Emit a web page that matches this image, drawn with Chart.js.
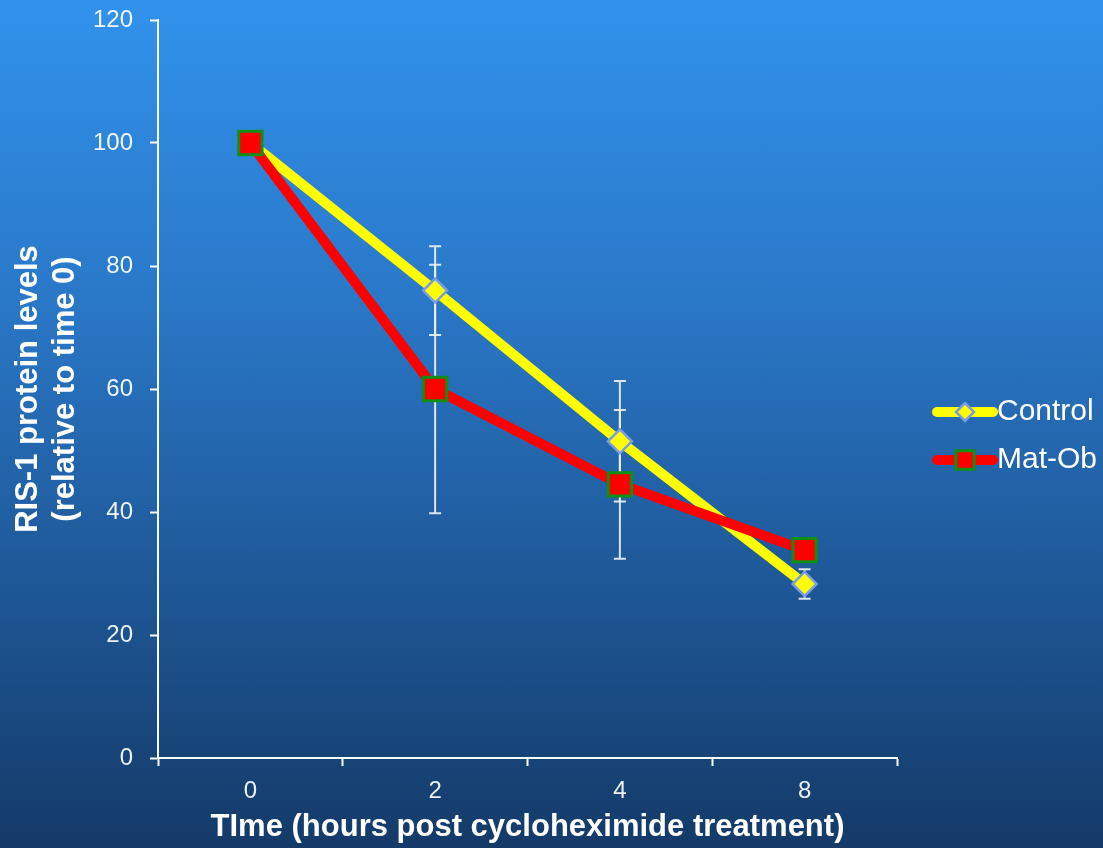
<!DOCTYPE html>
<html>
<head>
<meta charset="utf-8">
<script src="https://cdn.jsdelivr.net/npm/chart.js@4.4.0/dist/chart.umd.min.js"></script>
<style>
  html, body { margin: 0; padding: 0; }
  body {
    width: 1103px; height: 848px; overflow: hidden;
    background: linear-gradient(to bottom, #3192ec 0%, #2a78c8 35%, #1f5b9c 65%, #143a68 100%);
  }
  canvas { display: block; }
</style>
</head>
<body>
<canvas id="chart" width="1103" height="848"></canvas>
<script>
// Data
const hours = ['0', '2', '4', '8'];
const controlLevels = [100, 76, 51.5, 28.3];
const controlErr = [0, 7.2, 9.8, 2.4];
const matObLevels = [100, 60, 44.5, 33.8];
const matObErr = [0, 20.2, 12.1, 0];
const yTicks = [0, 20, 40, 60, 80, 100, 120];

Chart.defaults.font.family = '"Liberation Sans", Arial, sans-serif';

// Error bars drawn through the y scale
const errorBars = {
    id: 'errorBars',
    beforeDatasetsDraw(chart) {
        const ctx = chart.ctx;
        const y = chart.scales.y;
        ctx.save();
        ctx.strokeStyle = 'rgba(235,240,245,0.92)';
        ctx.lineWidth = 2;
        chart.data.datasets.forEach((ds, i) => {
            const meta = chart.getDatasetMeta(i);
            ds.errors.forEach((e, j) => {
                if (!e) return;
                const x = meta.data[j].x;
                const top = y.getPixelForValue(ds.data[j] + e);
                const bot = y.getPixelForValue(ds.data[j] - e);
                ctx.beginPath();
                ctx.moveTo(x, top); ctx.lineTo(x, bot);
                ctx.moveTo(x - 6, top); ctx.lineTo(x + 6, top);
                ctx.moveTo(x - 6, bot); ctx.lineTo(x + 6, bot);
                ctx.stroke();
            });
        });
        ctx.restore();
    }
};

// Excel style legend: thick line with marker in the middle
const sideLegend = {
    id: 'sideLegend',
    afterDraw(chart) {
        const ctx = chart.ctx;
        const x0 = chart.chartArea.right + 40;
        const rows = [412, 460];
        ctx.save();
        chart.data.datasets.forEach((ds, i) => {
            const yy = rows[i];
            ctx.strokeStyle = ds.borderColor;
            ctx.lineWidth = 10;
            ctx.lineCap = 'round';
            ctx.beginPath();
            ctx.moveTo(x0, yy); ctx.lineTo(x0 + 56, yy);
            ctx.stroke();
            ctx.fillStyle = ds.pointBackgroundColor;
            ctx.strokeStyle = ds.pointBorderColor;
            ctx.lineWidth = ds.pointBorderWidth;
            Chart.helpers.drawPoint(ctx, {
                pointStyle: ds.pointStyle,
                radius: ds.pointStyle === 'rect' ? 13 : 9,
                borderWidth: ds.pointBorderWidth
            }, x0 + 28, yy);
            ctx.fillStyle = '#ffffff';
            ctx.font = '30px "Liberation Sans", Arial, sans-serif';
            ctx.textBaseline = 'middle';
            ctx.fillText(ds.label, x0 + 60, yy);
        });
        ctx.restore();
    }
};

new Chart(document.getElementById('chart'), {
    type: 'line',
    data: {
        labels: hours,
        datasets: [
            {
                label: 'Control',
                data: controlLevels,
                errors: controlErr,
                borderColor: '#ffff00',
                borderWidth: 10,
                borderJoinStyle: 'round',
                tension: 0,
                pointStyle: 'rectRot',
                pointRadius: 12,
                pointBackgroundColor: '#ffff00',
                pointBorderColor: '#7a9ce8',
                pointBorderWidth: 2.5,
                order: 1
            },
            {
                label: 'Mat-Ob',
                data: matObLevels,
                errors: matObErr,
                borderColor: '#ff0000',
                borderWidth: 10,
                borderJoinStyle: 'round',
                tension: 0,
                pointStyle: 'rect',
                pointRadius: 16.5,
                pointBackgroundColor: '#ff0000',
                pointBorderColor: '#0f8f14',
                pointBorderWidth: 3,
                order: 0
            }
        ]
    },
    options: {
        responsive: false,
        animation: false,
        layout: { padding: { top: 20, right: 206, left: 0, bottom: 0 } },
        plugins: { legend: { display: false }, tooltip: { enabled: false } },
        scales: {
            x: {
                offset: true,
                grid: { offset: true, drawOnChartArea: false, tickLength: 8, tickColor: '#ffffff', tickWidth: 2 },
                border: { color: '#ffffff', width: 2 },
                ticks: { color: 'rgba(255,255,255,0.92)', font: { size: 24 }, padding: 11 },
                title: {
                    display: true,
                    text: 'TIme (hours post cycloheximide treatment)',
                    color: '#ffffff',
                    font: { size: 31, weight: 'bold' },
                    padding: { top: 2, bottom: 2 }
                },
                afterFit(scale) { scale.height = 90; scale.paddingLeft = 0; scale.paddingRight = 0; }
            },
            y: {
                min: 0,
                max: 120,
                afterBuildTicks(scale) { scale.ticks = yTicks.map(v => ({ value: v })); },
                grid: { drawOnChartArea: false, tickLength: 8, tickColor: '#ffffff', tickWidth: 2 },
                border: { color: '#ffffff', width: 2 },
                ticks: { color: 'rgba(255,255,255,0.92)', font: { size: 24 }, padding: 17 },
                title: {
                    display: true,
                    text: ['RIS-1 protein levels', '(relative to time 0)'],
                    color: '#ffffff',
                    font: { size: 31, weight: 'bold', lineHeight: 1.2 },
                    padding: { top: 10, bottom: 2 }
                },
                afterFit(scale) { scale.width = 158; scale.paddingTop = 0; scale.paddingBottom = 0; }
            }
        }
    },
    plugins: [errorBars, sideLegend]
});
</script>
</body>
</html>
